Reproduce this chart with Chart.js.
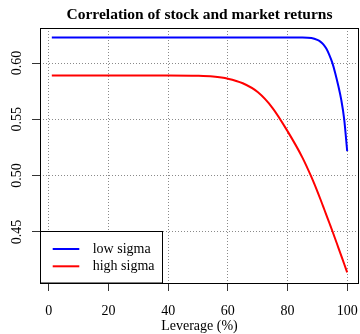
<!DOCTYPE html>
<html>
<head>
<meta charset="utf-8">
<script src="https://cdn.jsdelivr.net/npm/chart.js@4/dist/chart.umd.min.js"></script>
<style>
  html, body { margin: 0; padding: 0; background: #fff; }
  canvas { display: block; }
</style>
</head>
<body>
<canvas id="corrChart" width="360" height="334"></canvas>
<script>
const leverage = [1, 40, 50, 55, 60, 65, 70, 75, 80, 85, 88, 90, 91, 92, 93, 94, 95, 96, 97, 98, 99, 100];
const lowSigma = [0.6227, 0.6227, 0.6227, 0.6227, 0.6227, 0.6227, 0.6227, 0.6227, 0.6227, 0.6227, 0.6222,
  0.6205, 0.619, 0.6166, 0.6128, 0.6072, 0.6003, 0.591, 0.58, 0.5675, 0.55, 0.5218];
const highSigma = [0.589, 0.589, 0.5887, 0.588, 0.5861, 0.582, 0.5742, 0.56, 0.5395, 0.516, 0.4988,
  0.486, 0.4792, 0.4722, 0.4652, 0.4581, 0.451, 0.4437, 0.4363, 0.4289, 0.4215, 0.414];
const xTicks = [0, 20, 40, 60, 80, 100];
const yTicks = [0.45, 0.5, 0.55, 0.6];
const seriesNames = ["low sigma", "high sigma"];

const SERIF = "'Liberation Serif', 'Times New Roman', serif";

function toPoints(ys) {
  return leverage.map((x, i) => ({ x: x, y: ys[i] }));
}

// base-graphics look: box, rotated y labels, title and legend
const baseDecor = {
  id: "baseDecor",
  afterDraw(chart) {
    const ctx = chart.ctx;
    const area = chart.chartArea;
    const yScale = chart.scales.y;
    ctx.save();

    // title over the plot region
    ctx.fillStyle = "#000";
    ctx.font = "bold 15.5px " + SERIF;
    ctx.textAlign = "center";
    ctx.textBaseline = "alphabetic";
    ctx.fillText("Correlation of stock and market returns", (area.left + area.right) / 2, 19);

    // y tick labels, parallel to the axis
    ctx.font = "14px " + SERIF;
    yTicks.forEach((v) => {
      const py = yScale.getPixelForValue(v);
      ctx.save();
      ctx.translate(20.5, py);
      ctx.rotate(-Math.PI / 2);
      ctx.textAlign = "center";
      ctx.fillText(v.toFixed(2), 0, 0);
      ctx.restore();
    });

    // legend in the bottom-left corner
    const lx = area.left + 0.5, ly = 231.5, lw = 122, lh = area.bottom - 231.5;
    ctx.fillStyle = "#fff";
    ctx.fillRect(lx, ly, lw, lh);
    ctx.strokeStyle = "#000";
    ctx.lineWidth = 1;
    ctx.strokeRect(lx, ly, lw, lh);
    ctx.textAlign = "left";
    ctx.textBaseline = "middle";
    chart.data.datasets.forEach((ds, i) => {
      const rowY = 249 + i * 17.3;
      ctx.strokeStyle = ds.borderColor;
      ctx.lineWidth = 2;
      ctx.beginPath();
      ctx.moveTo(52.7, rowY);
      ctx.lineTo(79.3, rowY);
      ctx.stroke();
      ctx.fillStyle = "#000";
      ctx.fillText(ds.label, 92.7, rowY);
    });

    // plot box
    ctx.strokeStyle = "#000";
    ctx.lineWidth = 1;
    ctx.strokeRect(area.left + 0.5, area.top + 0.5, area.right - area.left - 1, area.bottom - area.top);
    ctx.restore();
  },
};

const gridStyle = {
  color: "#8a8a8a",
  lineWidth: 1,
  drawTicks: true,
  tickLength: 8,
  tickColor: "#333",
  tickWidth: 1,
  tickBorderDash: [],
};

// grid line dashes live under "border" in v4
const dottedBorder = { display: false, dash: [1, 2] };

new Chart(document.getElementById("corrChart"), {
  type: "line",
  data: {
    datasets: [
      {
        label: seriesNames[0],
        data: toPoints(lowSigma),
        borderColor: "#0000ff",
        borderWidth: 2,
        pointRadius: 0,
        cubicInterpolationMode: "monotone",
        fill: false,
      },
      {
        label: seriesNames[1],
        data: toPoints(highSigma),
        borderColor: "#ff0000",
        borderWidth: 2,
        pointRadius: 0,
        cubicInterpolationMode: "monotone",
        fill: false,
      },
    ],
  },
  options: {
    responsive: false,
    animation: false,
    layout: { padding: { top: 28, right: 1, left: 0, bottom: 0 } },
    plugins: {
      legend: { display: false },
      title: { display: false },
      tooltip: { enabled: false },
    },
    scales: {
      x: {
        type: "linear",
        min: -2.96,
        max: 103.96,
        afterBuildTicks: (scale) => {
          scale.ticks = xTicks.map((v) => ({ value: v }));
        },
        afterFit: (scale) => {
          scale.height = 51;
          // the end labels fit inside the canvas already
          scale.paddingLeft = 0;
          scale.paddingRight = 0;
        },
        grid: gridStyle,
        border: dottedBorder,
        ticks: {
          color: "#000",
          font: { family: SERIF, size: 14 },
          padding: 12.4,
          maxRotation: 0,
          autoSkip: false,
        },
        title: {
          display: true,
          text: "Leverage (%)",
          color: "#000",
          font: { family: SERIF, size: 14, lineHeight: 1 },
          padding: { top: 0, bottom: 0.7 },
        },
      },
      y: {
        type: "linear",
        min: 0.4046,
        max: 0.6311,
        afterBuildTicks: (scale) => {
          scale.ticks = yTicks.map((v) => ({ value: v }));
        },
        afterFit: (scale) => {
          scale.width = 40;
          scale.paddingTop = 0;
          scale.paddingBottom = 0;
        },
        grid: gridStyle,
        border: dottedBorder,
        ticks: { display: false },
      },
    },
  },
  plugins: [baseDecor],
});
</script>
</body>
</html>
